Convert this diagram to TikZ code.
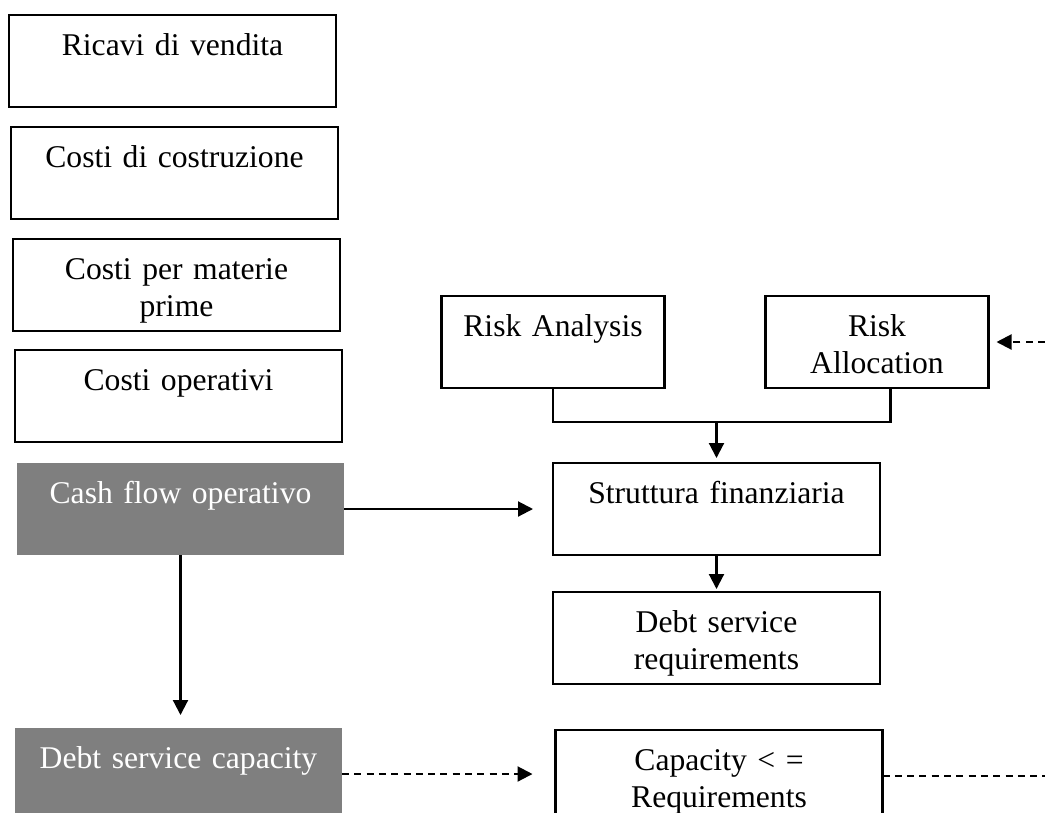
\documentclass[tikz,border=0pt]{standalone}
\usepackage{fontspec}
\setmainfont{Liberation Serif}
\usetikzlibrary{positioning, arrows.meta}
\definecolor{boxgray}{HTML}{7F7F7F}

\begin{document}
\begin{tikzpicture}[
    >={Triangle[length=0.3cm, width=0.3cm]},
    line width=1.2pt,
    box/.style={
      draw,
      minimum width=6.54cm,
      minimum height=1.84cm,
      text width=6.2cm,
      inner sep=0pt,
      outer sep=0pt,
      align=center,
      text height=0.8cm,
      text depth=1.04cm,
      font=\fontsize{18pt}{21.3pt}\selectfont
    },
    graybox/.style={box, draw=none, fill=boxgray, text=white},
    riskbox/.style={box, minimum width=4.46cm, text width=4.2cm},
    dashline/.style={dash pattern=on 4pt off 3pt}
  ]
    \useasboundingbox (0,0) rectangle (20.9,-16.24);
    \clip (0,0) rectangle (20.9,-16.24);

    \node[box] (ricavi) at (3.45,-1.22) {Ricavi di vendita};
    \node[box, below=0.4cm of ricavi, xshift=0.04cm]     (costruz)   {Costi di costruzione};
    \node[box, below=0.4cm of costruz, xshift=0.04cm]    (materie)   {Costi per materie\\prime};
    \node[box, below=0.38cm of materie, xshift=0.04cm]   (operativi) {Costi operativi};
    \node[graybox, below=0.42cm of operativi, xshift=0.04cm] (cashflow) {Cash flow operativo};
    \node[graybox, below=3.46cm of cashflow, xshift=-0.04cm] (capacity) {Debt service capacity};

    \node[box, right=4.18cm of cashflow]                 (struttura)    {Struttura finanziaria};
    \node[box, below=0.74cm of struttura]                (requirements) {Debt service\\requirements};
    \node[box, below=0.92cm of requirements, xshift=0.05cm] (compare)   {Capacity < =\\Requirements};
    \node[riskbox, above=1.5cm of struttura.north west]  (riskan) {Risk Analysis};
    \node[riskbox, right=2.02cm of riskan]               (riskal) {Risk\\Allocation};

    \coordinate (join) at ([yshift=-0.68cm]riskan.south);
    \coordinate (edge) at (20.9,0);

    \draw (riskan.south) -- (join) -| ([xshift=0.27cm]riskal.south);
    \draw[->, shorten >=0.1cm] (struttura.north |- join) -- (struttura.north);
    \draw[->, shorten >=0.4cm] (cashflow) -- (struttura);
    \draw[->, shorten >=0.06cm] (struttura) -- (requirements);
    \draw[->, shorten >=0.26cm] (cashflow.south) -- (cashflow.south |- capacity.north);
    \draw[->, dashline, shorten >=0.46cm] (capacity.east) -- (capacity.east -| compare.west);
    \draw[dashline] (compare.east) -- (compare.east -| edge);
    \draw[->, dashline, shorten >=0.16cm] (riskal.east -| edge) -- (riskal.east);
  \end{tikzpicture}
\end{document}
